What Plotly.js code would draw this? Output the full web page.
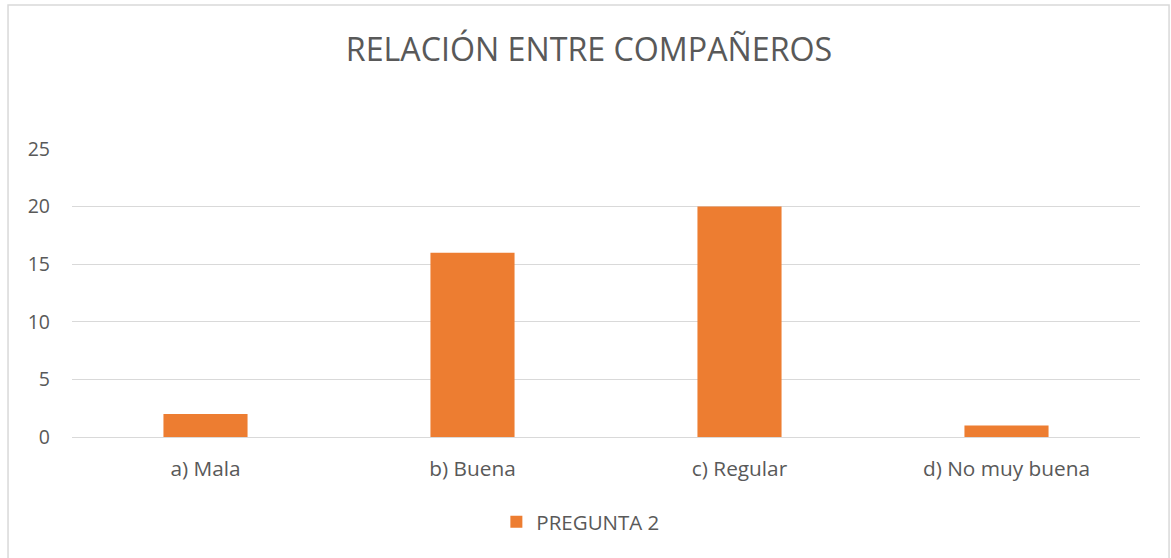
<!DOCTYPE html>
<html>
<head>
<meta charset="utf-8">
<script src="https://cdn.plot.ly/plotly-3.0.1.min.js"></script>
<style>html,body{margin:0;padding:0;background:#fff;}#chart{width:1171px;height:558px;}</style>
</head>
<body>
<div id="chart"></div>
<script>
const categories = ["a) Mala", "b) Buena", "c) Regular", "d) No muy buena"];
const values = [2, 16, 20, 1];
const seriesName = "PREGUNTA 2";
const yTicks = [0, 5, 10, 15, 20, 25];

const font = "Open Sans, Noto Sans, sans-serif";
const data = [{
  type: "bar",
  x: categories,
  y: values,
  name: seriesName,
  marker: {color: "#ED7D31"},
  width: 0.315,
  showlegend: true,
  hoverinfo: "x+y"
}];
const layout = {
  width: 1171, height: 558,
  margin: {l: 72, r: 31, t: 149, b: 121},
  paper_bgcolor: "#fff", plot_bgcolor: "#fff",
  font: {family: font, color: "#595959", size: 19},
  title: {text: "RELACIÓN ENTRE COMPAÑEROS", font: {family: font, size: 32.2, color: "#595959"}, x: 0.503, xanchor: "center", y: 0.91, yanchor: "middle"},
  xaxis: {showgrid: false, showline: false, zeroline: false, ticks: "", tickfont: {size: 20.8, color: "#595959"}, ticklabelstandoff: 17, fixedrange: true},
  yaxis: {range: [0, 25], tickvals: yTicks, showgrid: true, gridcolor: "#D9D9D9", gridwidth: 1, zeroline: true, zerolinecolor: "#D9D9D9", zerolinewidth: 1, showline: false, ticks: "", tickfont: {size: 19.5, color: "#595959"}, ticklabelstandoff: 21, fixedrange: true},
  showlegend: true,
  legend: {orientation: "h", x: 0.476, xanchor: "center", y: -0.295, yanchor: "middle", font: {size: 20.5, color: "#595959"}, itemwidth: 30},
  shapes: [{type: "rect", xref: "paper", yref: "paper", x0: -0.0599, x1: 1.0272, y0: -0.6, y1: 1.5, line: {color: "#D9D9D9", width: 1.5}, fillcolor: "rgba(0,0,0,0)", layer: "below"}]
};
Plotly.newPlot("chart", data, layout, {displayModeBar: false, staticPlot: true});
</script>
</body>
</html>
